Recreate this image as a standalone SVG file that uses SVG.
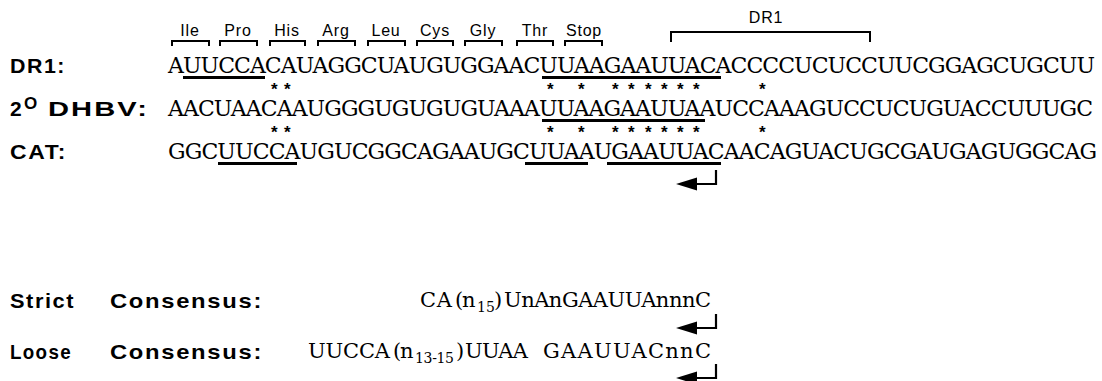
<svg xmlns="http://www.w3.org/2000/svg" width="1102" height="381" viewBox="0 0 1102 381">
  <style>
    .lbl { font-family: "Liberation Sans", Arial, sans-serif; font-weight: bold; font-size: 21px; letter-spacing: 1.5px; fill: #000; }
    .seq { font-family: "DejaVu Serif", "Liberation Serif", serif; font-size: 22px; fill: #000; }
    .cons { font-family: "DejaVu Serif", "Liberation Serif", serif; font-size: 21px; fill: #000; }
    .sub { font-size: 14px; }
    .codon { font-family: "Liberation Sans", Arial, sans-serif; font-size: 16px; fill: #000; text-anchor: middle; letter-spacing: 0.8px; }
    .star { font-family: "Liberation Sans", Arial, sans-serif; font-weight: bold; font-size: 17px; fill: #000; }
    .brk { fill: none; stroke: #000; stroke-width: 2; }
    .ul { stroke: #000; stroke-width: 3; }
  </style>
  <defs>
    <!-- bent arrow marking the return point -->
    <g id="turn-arrow">
      <path d="M716 0 V14 H693" fill="none" stroke="#000" stroke-width="2.2"/>
      <polygon points="676,14 697,7.5 697,20.5" fill="#000"/>
    </g>
  </defs>

  <!-- codon brackets over DR1 sequence -->
  <g id="codons">
    <path class="brk" d="M172 46 V41 H209 V46"/><text class="codon" x="190" y="36">Ile</text>
    <path class="brk" d="M220 46 V41 H257 V46"/><text class="codon" x="238" y="36">Pro</text>
    <path class="brk" d="M270 46 V41 H305 V46"/><text class="codon" x="287" y="36">His</text>
    <path class="brk" d="M318 46 V41 H355 V46"/><text class="codon" x="336" y="36">Arg</text>
    <path class="brk" d="M368 46 V41 H405 V46"/><text class="codon" x="386" y="36">Leu</text>
    <path class="brk" d="M417 46 V41 H453 V46"/><text class="codon" x="435" y="36">Cys</text>
    <path class="brk" d="M465 46 V41 H502 V46"/><text class="codon" x="483" y="36">Gly</text>
    <path class="brk" d="M517 46 V41 H553 V46"/><text class="codon" x="535" y="36" letter-spacing="1.5">Thr</text>
    <path class="brk" d="M565 46 V41 H602 V46"/><text class="codon" x="584" y="36" letter-spacing="1.2">Stop</text>
  </g>

  <!-- DR1 bracket -->
  <g id="dr1-bracket">
    <path class="brk" d="M671 42 V32 H870 V42"/>
    <text class="codon" x="766" y="23" letter-spacing="2">DR1</text>
  </g>

  <!-- aligned sequences -->
  <g id="row-dr1">
    <text class="lbl" x="10" y="73" textLength="56" lengthAdjust="spacingAndGlyphs">DR1:</text>
    <text class="seq" x="168" y="73" textLength="927" lengthAdjust="spacing">AUUCCACAUAGGCUAUGUGGAACUUAAGAAUUACACCCCUCUCCUUCGGAGCUGCUU</text>
    <line class="ul" x1="183" y1="77.5" x2="265" y2="77.5"/>
    <line class="ul" x1="542" y1="77.5" x2="721" y2="77.5"/>
  </g>

  <!-- identity marks between DR1 and DHBV -->
  <text id="stars-1" class="star" y="95" x="271 284 547 578 612 628 645 661 677 693 759">***********</text>

  <g id="row-dhbv">
    <text class="lbl" x="10" y="116">2<tspan x="24" dy="-7" font-size="17">O</tspan><tspan dy="7" x="48" textLength="101" lengthAdjust="spacingAndGlyphs">DHBV:</tspan></text>
    <text class="seq" x="168" y="116" textLength="925" lengthAdjust="spacing">AACUAACAAUGGGUGUGUGUAAAUUAAGAAUUAAUCCAAAGUCCUCUGUACCUUUGC</text>
    <line class="ul" x1="542" y1="120.5" x2="705" y2="120.5"/>
  </g>

  <!-- identity marks between DHBV and CAT -->
  <text id="stars-2" class="star" y="138" x="271 284 547 578 612 628 645 661 677 693 759">***********</text>

  <g id="row-cat">
    <text class="lbl" x="10" y="159" textLength="57" lengthAdjust="spacingAndGlyphs">CAT:</text>
    <text class="seq" x="168" y="159" textLength="929" lengthAdjust="spacing">GGCUUCCAUGUCGGCAGAAUGCUUAAUGAAUUACAACAGUACUGCGAUGAGUGGCAG</text>
    <line class="ul" x1="218" y1="163.5" x2="297" y2="163.5"/>
    <line class="ul" x1="525" y1="163.5" x2="588" y2="163.5"/>
    <line class="ul" x1="607" y1="163.5" x2="721" y2="163.5"/>
  </g>

  <g id="connectors">
    <use href="#turn-arrow" x="0" y="170"/>
    <use href="#turn-arrow" x="0" y="314"/>
    <use href="#turn-arrow" x="0" y="364"/>
  </g>

  <!-- consensus motifs -->
  <g id="strict">
    <text class="lbl" x="10" y="308" textLength="65" lengthAdjust="spacingAndGlyphs">Strict</text>
    <text class="lbl" x="110" y="308" textLength="153" lengthAdjust="spacingAndGlyphs">Consensus:</text>
    <text class="cons" x="420" y="307"><tspan textLength="32" lengthAdjust="spacing">CA</tspan><tspan x="455">(</tspan><tspan x="462">n</tspan><tspan class="sub" x="477" dy="5">15</tspan><tspan x="494" dy="-5">)</tspan><tspan x="504" textLength="207" lengthAdjust="spacing">UnAnGAAUUAnnnC</tspan></text>
  </g>

  <g id="loose">
    <text class="lbl" x="10" y="359" textLength="62" lengthAdjust="spacingAndGlyphs">Loose</text>
    <text class="lbl" x="110" y="359" textLength="153" lengthAdjust="spacingAndGlyphs">Consensus:</text>
    <text class="cons" x="308" y="358"><tspan textLength="82" lengthAdjust="spacing">UUCCA</tspan><tspan x="393">(</tspan><tspan x="400">n</tspan><tspan class="sub" x="415" dy="5" textLength="39" lengthAdjust="spacing">13-15</tspan><tspan x="456" dy="-5">)</tspan><tspan x="465" textLength="63" lengthAdjust="spacing">UUAA</tspan><tspan x="543" textLength="168" lengthAdjust="spacing">GAAUUACnnC</tspan></text>
  </g>
</svg>
